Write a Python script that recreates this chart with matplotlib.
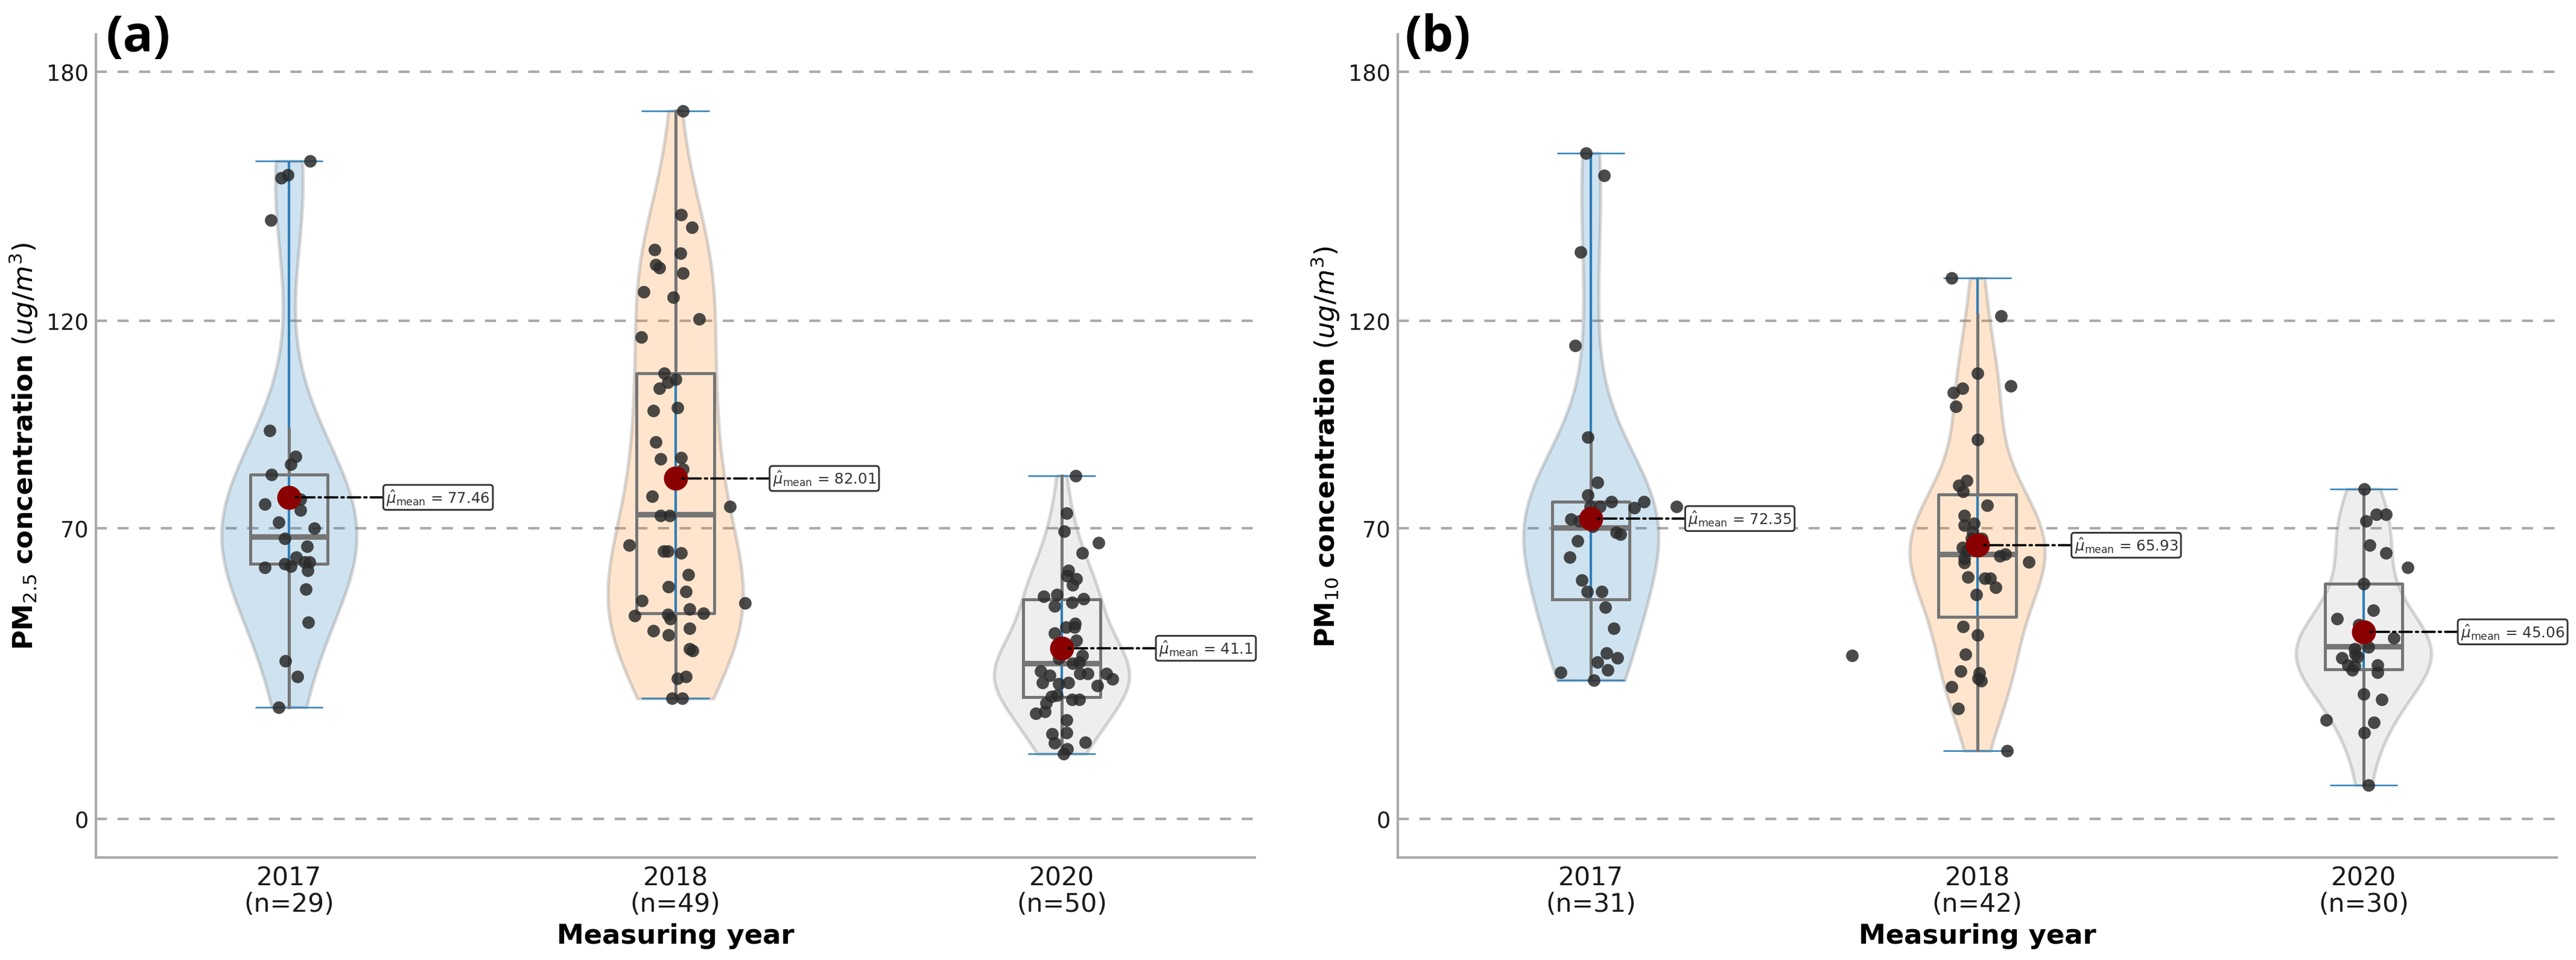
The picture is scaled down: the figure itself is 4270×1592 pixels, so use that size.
import numpy as np
import matplotlib
matplotlib.use("Agg")
import matplotlib.pyplot as plt

years = ["2017", "2018", "2020"]
ticks_y = [0, 70, 120, 180]

# Panel (a) PM2.5
a17_y = [158.5,155.1,154.4,144.2,93.6,87.3,85.4,82.9,78.6,77.5,77,75.9,74.4,71.5,70,67.5,65.6,63.1,61.9,61.9,61.4,60.9,60.6,59.8,55.4,47.3,38.1,34.3,26.9]
a17_j = [.054,-.004,-.021,-.047,-.05,.017,.004,-.045,-.01,.006,.03,-.063,.03,-.027,.066,-.011,.046,.018,.053,.04,-.011,.005,-.063,.048,.043,.049,-.01,.021,-.027]
a18_y = [170.6,145.6,142.5,137.2,136.2,133.5,132.8,131.5,127,125.6,120.4,116.1,107.4,105.9,105.2,103.7,99.1,98.4,90.8,86.7,87,84.2,77.7,75.2,73.1,73.1,65.9,64.5,64.5,64.1,58.9,56,54.7,52.6,52,50.5,49.5,48.9,49.2,48.3,45.9,45.3,44.3,40.9,40.6,34.3,33.8,29,29]
a18_j = [.02,.015,.043,-.054,.013,-.05,-.042,.02,-.082,-.006,.061,-.088,-.029,0,-.02,-.042,.006,-.057,-.05,-.038,.015,.02,-.06,.141,-.038,-.015,-.119,-.031,-.02,.015,.033,-.018,.028,-.086,.18,.036,.073,-.105,-.02,-.014,.036,-.057,-.018,.036,.045,.028,.006,-.008,.018]
a20_y = [82.7,73.7,69.3,66.5,64,59.8,58.6,57.8,56.4,53.6,54.1,53,52.1,51.3,47,46.2,46.2,44.8,43,39.4,40.9,37.5,35.6,34.6,35,35,35,33.7,32.8,32.5,32.8,32.1,29.8,29.5,28.7,28.7,27.9,25.8,25.4,23.8,20.5,20.7,18.3,18.5,16.8,15.7,41.2,42.4,38.7,37.7]
a20_j = [.036,.013,.006,.096,.053,.017,.014,.037,.029,-.047,-.013,.057,.027,-.019,.035,.011,.033,-.019,.038,.054,.013,.029,-.054,-.031,.047,.067,.116,.131,-.05,-.007,.017,.092,-.013,-.027,.027,.046,-.041,-.044,-.067,.013,-.025,.013,-.018,.061,.014,.005,-.011,.001,-.007,.045]

# Panel (b) PM10
b17_y = [160.4,155,136.5,114,91.9,81.1,78,76.4,76.4,75.3,75.3,75,75.3,72.2,71.8,70.5,69,68.5,66.9,63.1,57.5,54.7,54.7,51,45.9,39.9,38.8,37.8,35.9,35.3,33.4]
b17_j = [-.013,.034,-.027,-.041,-.008,.017,-.008,.053,.137,.023,-.002,.112,.221,-.052,-.03,.005,.065,.077,-.035,-.055,-.024,-.01,.028,.037,.059,.04,.068,.017,.043,-.078,.008]
b18_y = [130.3,121.1,107.4,104.3,103.7,102.7,99.4,91.4,81.5,80.4,78.9,75.5,73.1,71.2,70.8,69,65.3,65.9,63.8,63.4,62.8,61.7,61.9,58.2,57.9,57.9,55.8,54.1,46.4,44.3,39.7,35.6,35.2,33.2,33.8,31.8,26.6,16.4,39.4,67.5,67.5,64.6]
b18_j = [-.066,.062,0,.086,-.038,-.061,-.055,0,-.027,-.048,-.037,.026,-.033,-.009,-.033,-.012,-.038,.002,.072,.058,-.033,-.033,.133,-.024,.02,.034,.048,-.002,-.036,0,-.03,-.043,.006,.01,.002,-.066,-.049,.078,-.324,-.015,.012,-.027]
b20_y = [79.5,73.4,73.4,71.8,65.9,64.1,60.6,56.6,50.2,48.3,43.6,41.4,38.8,39.7,39.1,37.1,36.9,35.9,37.1,35.3,30,28.7,23.8,23.2,20.7,8.1,45.3,43.9,46.8,40.9]
b20_j = [.002,.033,.058,.006,.016,.058,.115,0,.026,-.069,.079,.012,-.056,-.021,-.015,-.041,-.023,-.03,.036,.036,0,.047,-.097,.027,.002,.013,-.006,.006,-.012,-.023]

# Box statistics per year: q1, median, q3, lower whisker, upper whisker
a_q1 = [61.4, 49.5, 29.4]; a_med = [68.0, 73.3, 37.5]; a_q3 = [82.9, 107.4, 52.9]
a_wlo = [26.9, 29.0, 15.7]; a_whi = [94.0, 170.6, 82.7]
b_q1 = [52.9, 48.6, 36.0]; b_med = [70.2, 63.8, 41.5]; b_q3 = [76.4, 78.1, 56.6]
b_wlo = [33.5, 16.5, 8.1]; b_whi = [91.9, 121.4, 79.5]
a_means = [77.46, 82.01, 41.1]
b_means = [72.35, 65.93, 45.06]
a_ns = [29, 49, 50]
b_ns = [31, 42, 30]

violin_colors = ["#1f77b4", "#ff7f0e", "#7f7f7f"]
violin_alphas = [0.21, 0.2, 0.13]

plt.rcParams["font.family"] = "DejaVu Sans"
plt.rcParams["mathtext.fontset"] = "dejavusans"

W, H = 4270, 1593
fig = plt.figure(figsize=(W / 300, H / 300), dpi=300)


def panel(left_px, data, jitter, q1, med, q3, wlo, whi, means, ns, ylabel, tag, tag_x):
    ax = fig.add_axes([left_px / W, 1 - 1423 / H, 1921 / W, (1423 - 58) / H])
    for v in ticks_y:
        ax.axhline(v, color="#aaaaaa", lw=1.0, ls=(0, (4.4, 4.2)), zorder=0.5)
    vp = ax.violinplot(data, positions=[0, 1, 2], widths=0.35, showextrema=True,
                       showmedians=False, points=200)
    for body, c, al in zip(vp["bodies"], violin_colors, violin_alphas):
        body.set_alpha(None)
        body.set_facecolor(matplotlib.colors.to_rgba(c, al))
        body.set_edgecolor((0.5, 0.5, 0.5, 0.3))
        body.set_linewidth(1.3)
        body.set_zorder(1)
    for key, lw in (("cbars", 1.0), ("cmins", 0.6), ("cmaxes", 0.6)):
        vp[key].set_color("#2f7fb8")
        vp[key].set_linewidth(lw)
        vp[key].set_zorder(2)
    stats = [dict(q1=q1[i], med=med[i], q3=q3[i], whislo=wlo[i], whishi=whi[i], fliers=[])
             for i in range(3)]
    ax.bxp(stats, positions=[0, 1, 2], widths=0.2, showcaps=False, showfliers=False,
           boxprops=dict(color="#757575", lw=1.2),
           whiskerprops=dict(color="#757575", lw=1.2),
           medianprops=dict(color="#757575", lw=2.2, solid_capstyle="butt"),
           manage_ticks=False, zorder=3)
    for i in range(3):
        ax.scatter(np.array(jitter[i]) + i, data[i], s=25, color="#2b2b2b", alpha=0.85,
                   linewidths=0, zorder=4)
        ax.scatter([i], [means[i]], s=92, color="#8b0000", linewidths=0, zorder=5)
        ax.annotate(rf"$\hat{{\mu}}_{{\mathrm{{mean}}}}$ = {means[i]}",
                    xy=(i, means[i]), xytext=(i + 0.2516, means[i]),
                    ha="left", va="center", fontsize=5.9, color="#333333", zorder=6,
                    bbox=dict(boxstyle="round,pad=0.2", fc="white", ec="#333333", lw=0.7),
                    arrowprops=dict(arrowstyle="-", ls=(0, (5.5, 1.8, 1, 1.8)), color="black",
                                    lw=0.9, shrinkA=0, shrinkB=2))
    ax.set_xlim(-0.5, 2.5)
    ax.set_ylim(-9.3, 189)
    ax.set_xticks([0, 1, 2])
    ax.set_xticklabels([f"{y}\n(n={n})" for y, n in zip(years, ns)], fontsize=10, linespacing=1.05)
    ax.set_yticks(ticks_y)
    ax.tick_params(axis="both", length=0, pad=3, colors="#1a1a1a")
    ax.tick_params(axis="y", labelsize=8.8)
    ax.tick_params(axis="x", pad=3, labelsize=10.2)
    for s in ("top", "right"):
        ax.spines[s].set_visible(False)
    for s in ("left", "bottom"):
        ax.spines[s].set_color("#aaaaaa")
        ax.spines[s].set_linewidth(1.0)
    ax.set_xlabel("Measuring year", fontsize=10.8, fontweight="bold")
    ax.xaxis.set_label_coords(0.5, -(1531 - 1423) / 1365)
    ax.set_ylabel(ylabel, fontsize=10.7)
    ax.yaxis.set_label_coords(-93 / 1921, 0.5)
    fig.text(tag_x / W, 1 - 64 / H, tag, fontsize=20, fontweight="bold",
             family="Open Sans", ha="center", va="center")
    return ax


panel(159, [a17_y, a18_y, a20_y], [a17_j, a18_j, a20_j], a_q1, a_med, a_q3, a_wlo, a_whi,
      a_means, a_ns, r"$\mathbf{PM}_{2.5}$ $\mathbf{concentration}$ $(ug/m^3)$", "(a)", 229)
panel(2317, [b17_y, b18_y, b20_y], [b17_j, b18_j, b20_j], b_q1, b_med, b_q3, b_wlo, b_whi,
      b_means, b_ns, r"$\mathbf{PM}_{10}$ $\mathbf{concentration}$ $(ug/m^3)$", "(b)", 2383)

fig.savefig("out.png", dpi=300, facecolor="white")
